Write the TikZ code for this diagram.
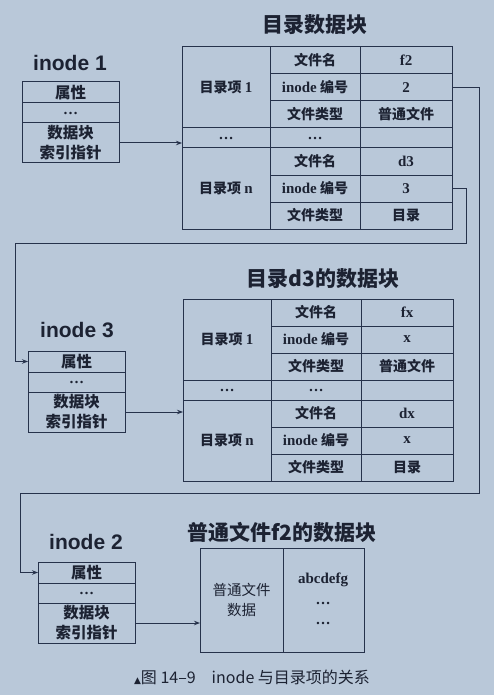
\documentclass[tikz,border=0pt]{standalone}
\usepackage{fontspec}
\setmainfont{Liberation Serif}
\newfontfamily\cjk{Noto Sans CJK SC}
\newfontfamily\heading{Liberation Sans}
\newfontfamily\symb{DejaVu Sans}
\usetikzlibrary{arrows.meta}

\definecolor{paper}{RGB}{185,200,217}
\definecolor{ink}{RGB}{38,50,75}
\definecolor{txt}{RGB}{28,34,50}

% Latin words inside CJK cells are set in the serif face
\newcommand\latn[1]{{\rmfamily\fontsize{15}{17}\selectfont #1}}

\tikzset{
  cellbox/.style={draw=ink, line width=1pt, inner sep=0pt, outer sep=0pt,
    anchor=north west, text=txt, align=center,
    font=\cjk\bfseries\fontsize{14}{16}\selectfont},
  inocell/.style={cellbox, minimum width=97pt,
    font=\cjk\bfseries\fontsize{15.5}{20}\selectfont},
  conn/.style={draw=ink, line width=1pt},
  arr/.style={conn, -{Stealth[length=6pt,width=4.5pt]}},
  title/.style={text=txt, font=\cjk\bfseries\fontsize{21}{25}\selectfont},
  inolabel/.style={text=txt, font=\heading\bfseries\fontsize{21}{24}\selectfont},
  plain/.style={text=txt, font=\rmfamily\bfseries\fontsize{15}{17}\selectfont},
}

% directory block: #1 prefix, #2-#4 values of entry 1, #5-#7 values of entry n
\newcommand\dirblock[7]{%
  \node[cellbox, minimum width=88pt, minimum height=81pt] (#1e1) at (0,0) {目录项 \latn{1}};
  \node[cellbox, minimum width=90pt, minimum height=27pt] (#1f1a) at (88,0) {文件名};
  \node[cellbox, minimum width=90pt, minimum height=27pt] (#1f1b) at (88,27) {\latn{inode} 编号};
  \node[cellbox, minimum width=90pt, minimum height=27pt] (#1f1c) at (88,54) {文件类型};
  \node[cellbox, minimum width=92pt, minimum height=27pt] (#1v1a) at (178,0) {#2};
  \node[cellbox, minimum width=92pt, minimum height=27pt] (#1v1b) at (178,27) {#3};
  \node[cellbox, minimum width=92pt, minimum height=27pt] (#1v1c) at (178,54) {#4};
  \node[cellbox, minimum width=88pt, minimum height=20pt] (#1d1) at (0,81) {\latn{…}};
  \node[cellbox, minimum width=90pt, minimum height=20pt] (#1d2) at (88,81) {\latn{…}};
  \node[cellbox, minimum width=92pt, minimum height=20pt] (#1d3) at (178,81) {};
  \node[cellbox, minimum width=88pt, minimum height=81pt] (#1en) at (0,101) {目录项 \latn{n}};
  \node[cellbox, minimum width=90pt, minimum height=27pt] (#1fna) at (88,101) {文件名};
  \node[cellbox, minimum width=90pt, minimum height=27pt] (#1fnb) at (88,128) {\latn{inode} 编号};
  \node[cellbox, minimum width=90pt, minimum height=27pt] (#1fnc) at (88,155) {文件类型};
  \node[cellbox, minimum width=92pt, minimum height=27pt] (#1vna) at (178,101) {#5};
  \node[cellbox, minimum width=92pt, minimum height=27pt] (#1vnb) at (178,128) {#6};
  \node[cellbox, minimum width=92pt, minimum height=27pt] (#1vnc) at (178,155) {#7};
}

% inode box: #1 prefix
\newcommand\inodebox[1]{%
  \node[inocell, minimum height=21pt] (#1a) at (0,0) {属性};
  \node[inocell, minimum height=20pt] (#1b) at (0,21) {\latn{…}};
  \node[inocell, minimum height=40pt] (#1c) at (0,41) {数据块\\索引指针};
}

\begin{document}
\begin{tikzpicture}[x=1pt, y=-1pt]
  \fill[paper] (0,0) rectangle (494,695);
  \useasboundingbox (0,0) rectangle (494,695);

  % titles
  \node[title] (t1) at (315,25) {目录数据块};
  \node[title] (t2) at (323,279) {目录d3的数据块};
  \node[title] (t3) at (282,532) {普通文件f2的数据块};

  % inode labels
  \node[inolabel] (n1) at (70,63) {inode 1};
  \node[inolabel] (n3) at (77,330) {inode 3};
  \node[inolabel] (n2) at (86,542) {inode 2};

  % inode boxes
  \begin{scope}[shift={(22,82)}]\inodebox{i1}\end{scope}
  \begin{scope}[shift={(28,351)}]\inodebox{i3}\end{scope}
  \begin{scope}[shift={(38,562)}]\inodebox{i2}\end{scope}

  % directory data blocks
  \begin{scope}[shift={(182,47)}]
    \dirblock{a}{\latn{f2}}{\latn{2}}{普通文件}{\latn{d3}}{\latn{3}}{目录}
  \end{scope}
  \begin{scope}[shift={(183,299)}]
    \dirblock{b}{\latn{fx}}{\latn{x}}{普通文件}{\latn{dx}}{\latn{x}}{目录}
  \end{scope}

  % data block of the regular file
  \node[cellbox, minimum width=83pt, minimum height=104pt,
        font=\cjk\fontsize{14.5}{20}\selectfont] (fd) at (200,548) {普通文件\\数据};
  \node[cellbox, minimum width=81pt, minimum height=104pt] (fc) at (283,548) {};
  \node[plain] (abc) at (323,580) {abcdefg};
  \node[plain] (dt1) at (323,603) {…};
  \node[plain] (dt2) at (323,623) {…};

  % pointers from inodes to their data blocks
  \draw[arr] (i1c.east) -- (ad1.west |- i1c.east);
  \draw[arr] (i3c.east) -- (bd1.west |- i3c.east);
  \draw[arr] (i2c.east) -- (fd.west |- i2c.east);

  % inode numbers leading to inodes
  \coordinate (r3) at (466,243);
  \coordinate (l3) at (15,243);
  \draw[arr] (avnb.east) -| (r3) -- (l3) |- (i3a.west);
  \coordinate (r2) at (479,493);
  \coordinate (l2) at (20,493);
  \draw[arr] (av1b.east) -| (r2) -- (l2) |- (i2a.west);

  % caption
  \node[text=txt, font=\cjk\fontsize{16}{19}\selectfont] (cap) at (252,677)
    {{\symb\fontsize{9}{10}\selectfont ▲}图 14–9\quad inode 与目录项的关系};
\end{tikzpicture}
\end{document}
